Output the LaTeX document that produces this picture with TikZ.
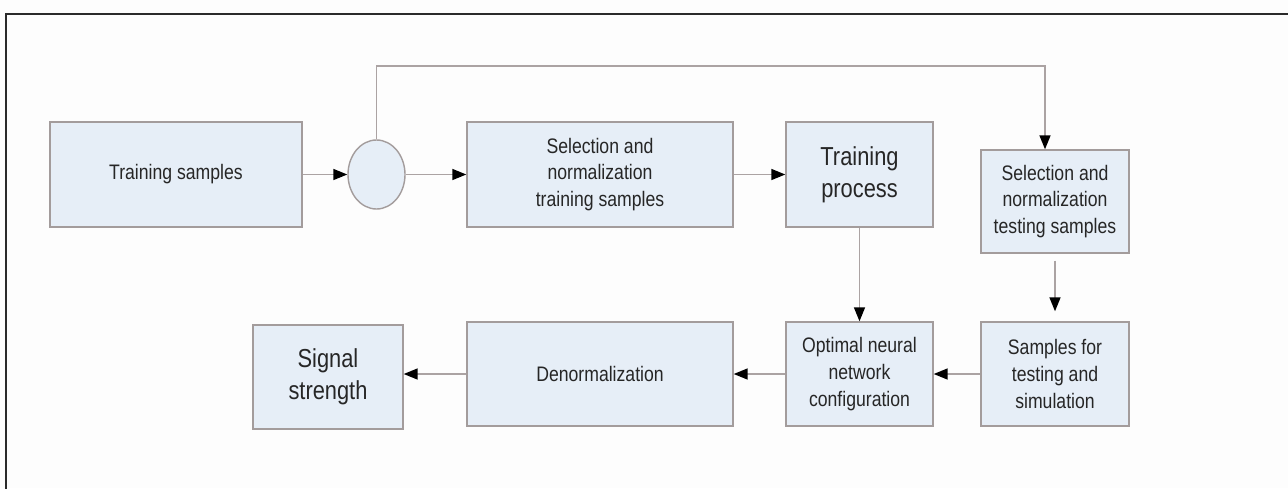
\documentclass[tikz,border=0pt]{standalone}
\usepackage{fontspec}
\setmainfont[FakeStretch=0.84]{Liberation Sans}
\usetikzlibrary{arrows.meta,shapes.geometric}
\definecolor{boxfill}{HTML}{E6EEF7}
\definecolor{boxline}{HTML}{A39C9C}
\definecolor{conn}{HTML}{ABA3A3}
\definecolor{txt}{HTML}{262626}
\definecolor{frame}{HTML}{2A2A2A}
\definecolor{bg}{HTML}{FDFDFD}
\tikzset{
  blk/.style={draw=boxline, fill=boxfill, line width=1.4pt, rectangle, inner sep=2pt,
    align=center, text=txt, font=\fontsize{21}{26.7}\selectfont},
  bigblk/.style={blk, font=\fontsize{26}{32}\selectfont},
  arr/.style={draw=conn, line width=1.5pt, -{Triangle[length=14pt,width=11pt,color=black]}},
}
\begin{document}
\begin{tikzpicture}[x=1pt,y=-1pt]
\useasboundingbox (0,0) rectangle (1288,488);
\fill[bg] (0,0) rectangle (1288,488);
\draw[frame, line width=2pt] (6,490) -- (6,14) -- (1290,14);

\node[blk, minimum width=252pt, minimum height=105pt] (ts) at (176,174.5) {Training samples};
\node[draw=boxline, fill=boxfill, line width=1.4pt, ellipse, minimum width=57pt, minimum height=69pt, inner sep=0pt] (circ) at (376.5,174.5) {};
\node[blk, minimum width=266pt, minimum height=105pt] (sel1) at (600,174.5) {Selection and\\normalization\\training samples};
\node[bigblk, minimum width=147pt, minimum height=105pt] (tp) at (859.5,174.5) {Training\\process};
\node[blk, minimum width=148pt, minimum height=103pt] (sel2) at (1055,201.5) {Selection and\\normalization\\testing samples};
\node[blk, minimum width=148pt, minimum height=104pt] (sts) at (1055,374) {Samples for\\testing and\\simulation};
\node[blk, minimum width=147pt, minimum height=104pt] (onn) at (859.5,374) {Optimal neural\\network\\configuration};
\node[blk, minimum width=266pt, minimum height=104pt] (den) at (600,374) {Denormalization};
\node[bigblk, minimum width=150pt, minimum height=104pt] (sig) at (328,377) {Signal\\strength};

\coordinate (fb) at (1045,66);

\draw[arr] (ts.east) -- (circ.west);
\draw[arr] (circ.east) -- (sel1.west);
\draw[arr] (sel1.east) -- (tp.west);
\draw[arr] (circ.north) |- (fb) -- (fb |- sel2.north);
\draw[arr] (tp.south) -- (onn.north);
\draw[arr, shorten <=7pt, shorten >=10pt] (sel2.south) -- (sts.north);
\draw[arr] (sts.west) -- (onn.east);
\draw[arr] (onn.west) -- (den.east);
\draw[arr] (den.west) -- (den.west -| sig.east);
\end{tikzpicture}
\end{document}
